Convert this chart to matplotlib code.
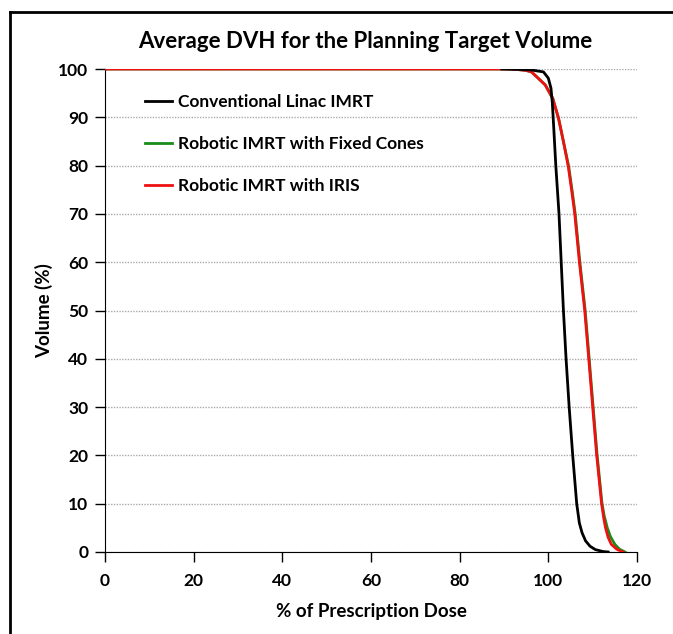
import matplotlib.pyplot as plt
from matplotlib.lines import Line2D

plt.rcParams['font.family'] = ['Lato', 'DejaVu Sans']
plt.rcParams['font.weight'] = 'bold'

# DVH points (% dose, % volume)
linac_dose = [89.5, 94, 96.2, 97.5, 98.9, 100.0, 100.6, 100.9, 101.1, 101.7, 102.4,
              102.9, 103.4, 104.0, 104.7, 105.5, 106.4, 107.0, 107.6, 108.4, 109.4,
              110.6, 112.3, 113.5]
linac_vol = [100, 99.9, 99.8, 99.6, 99.4, 98.1, 96, 93, 89.8, 79.8, 70.1,
             60.1, 50.1, 40, 30, 20, 10, 6, 4, 2.3, 1.2,
             0.5, 0.1, 0]

cones_dose = [0, 91, 93, 95, 96.2, 97.7, 99.3, 101.0, 102.3, 103.4, 104.6, 105.4,
              106.05, 107.1, 108.3, 109.2, 110.1, 111.0, 112.1, 112.6, 113.3,
              114.0, 115.0, 116.0, 117.3]
cones_vol = [100, 100, 99.9, 99.7, 99.4, 98.1, 96.7, 93.9, 89.8, 85.0, 79.8, 74.6,
             70.1, 60.1, 50.1, 40.2, 30.1, 20.1, 10.1, 7.5, 5,
             3.2, 1.6, 0.6, 0]

iris_dose = [0, 91, 93, 95, 96.2, 97.7, 99.3, 101.0, 102.3, 103.4, 104.5, 105.3,
             105.95, 107.0, 108.2, 109.1, 110.0, 110.9, 112.0, 112.5, 112.9,
             113.5, 114.2, 115.4, 116.8]
iris_vol = [100, 100, 99.9, 99.7, 99.4, 98.1, 96.7, 93.9, 89.8, 85.0, 79.8, 74.6,
            70.1, 60.1, 50.1, 40.2, 30.1, 20.1, 10.1, 7, 5,
            3, 1.6, 0.6, 0]

labels = ['Conventional Linac IMRT', 'Robotic IMRT with Fixed Cones', 'Robotic IMRT with IRIS']
x_ticks = [0, 20, 40, 60, 80, 100, 120]
y_ticks = [0, 10, 20, 30, 40, 50, 60, 70, 80, 90, 100]

fig = plt.figure(figsize=(6.73, 6.34), dpi=100)
ax = fig.add_axes([105 / 673, 1 - 552 / 634, 532 / 673, 483 / 634])

l1, = ax.plot(linac_dose, linac_vol, color='black', lw=2, zorder=4)
l2, = ax.plot(cones_dose, cones_vol, color='#1a8c1a', lw=2, zorder=2)
l3, = ax.plot(iris_dose, iris_vol, color='#ee1111', lw=2, zorder=3)

ax.set_xlim(0, 120)
ax.set_ylim(0, 100)
ax.set_xticks(x_ticks)
ax.set_yticks(y_ticks)
ax.yaxis.grid(True, linestyle=(0, (1, 1)), color='#aaaaaa', lw=1)
ax.set_axisbelow(True)
for s in ['top', 'right']:
    ax.spines[s].set_visible(False)
ax.tick_params(direction='out', length=7, width=1, labelsize=12.5)
ax.tick_params(axis='y', pad=5)
ax.tick_params(axis='x', pad=8)

ax.set_title('Average DVH for the Planning Target Volume', fontsize=16,
             fontweight='bold', pad=15, x=0.49)
ax.set_xlabel('% of Prescription Dose', fontsize=13.5, fontweight='bold', labelpad=10)
ax.set_ylabel('Volume (%)', fontsize=13.5, fontweight='bold', labelpad=4)

ax.legend([l1, l2, l3], labels, loc='upper left', bbox_to_anchor=(0.075, 0.948),
          frameon=False, fontsize=12.5, handlelength=1.55, handletextpad=0.35,
          labelspacing=1.5, borderpad=0, borderaxespad=0)

# black frame on the left and top of the picture
fig.add_artist(Line2D([10 / 673, 10 / 673], [0, 1 - 12 / 634], color='black', lw=2))
fig.add_artist(Line2D([10 / 673, 1], [1 - 12 / 634, 1 - 12 / 634], color='black', lw=2))

fig.savefig('out.png', dpi=100)
